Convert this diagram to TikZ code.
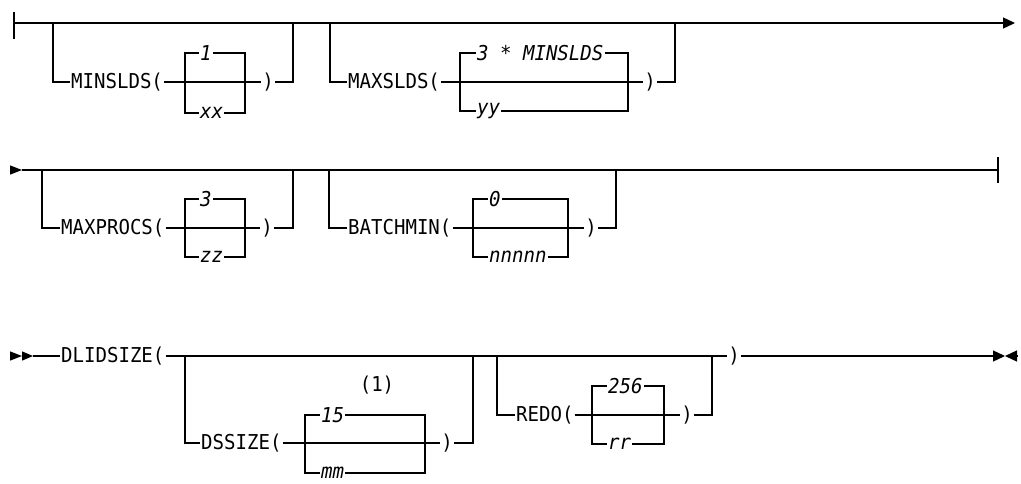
\documentclass[tikz,border=0pt]{standalone}
\usepackage{fontspec}
\usetikzlibrary{arrows.meta}
\newfontfamily\railfont[FakeStretch=0.93]{DejaVu Sans Mono}
\tikzset{
  kw/.style={font=\railfont\fontsize{20.5}{24}\selectfont, inner sep=0.5pt},
  var/.style={font=\railfont\itshape\fontsize{20.5}{24}\selectfont, inner sep=0.5pt, anchor=west},
  tip/.style={-{Triangle[length=12pt,width=11pt]}},
}
\begin{document}
\begin{tikzpicture}[x=1pt,y=-1pt,line width=1.3pt]
\useasboundingbox (0,0) rectangle (1021,483);

\coordinate (s1) at (14,23);
\coordinate (e1) at (1015,23);
\coordinate (j1a) at (53,23);
\coordinate (j1b) at (293,23);
\coordinate (j2a) at (330,23);
\coordinate (j2b) at (675,23);
\node[kw,anchor=west] (MINS) at (70,82) {MINSLDS(};
\node[kw] (R1) at (268,82) {)};
\coordinate (b1l) at (185,82);
\coordinate (b1r) at (245,82);
\node[var] (ONE) at (199,53) {1};
\node[var] (XX) at (199,113) {xx};
\node[kw,anchor=west] (MAXS) at (347,82) {MAXSLDS(};
\node[kw] (R2) at (650,82) {)};
\coordinate (b2l) at (460,82);
\coordinate (b2r) at (628,82);
\node[var] (TRI) at (476,53) {3 * MINSLDS};
\node[var] (YY) at (476,111) {yy};

\draw ([yshift=11pt]s1) -- ([yshift=-16pt]s1);
\draw[tip] (s1) -- (e1);
\draw (j1a) |- (MINS);
\draw (MINS) -- (R1);
\draw (R1) -| (j1b);
\draw (b1l) |- (ONE);
\draw (ONE) -| (b1r);
\draw (b1l) |- (XX);
\draw (XX) -| (b1r);
\draw (j2a) |- (MAXS);
\draw (MAXS) -- (R2);
\draw (R2) -| (j2b);
\draw (b2l) |- (TRI);
\draw (TRI) -| (b2r);
\draw (b2l) |- (YY);
\draw (YY) -| (b2r);

\coordinate (s2) at (10,170);
\coordinate (t2) at (22,170);
\coordinate (e2) at (998,170);
\coordinate (j3a) at (42,170);
\coordinate (j3b) at (293,170);
\coordinate (j4a) at (329,170);
\coordinate (j4b) at (616,170);
\node[kw,anchor=west] (MAXP) at (60,228) {MAXPROCS(};
\node[kw] (R3) at (267,228) {)};
\coordinate (b3l) at (185,228);
\coordinate (b3r) at (245,228);
\node[var] (THREE) at (199,199) {3};
\node[var] (ZZ) at (199,257) {zz};
\node[kw,anchor=west] (BATCH) at (347,228) {BATCHMIN(};
\node[kw] (R4) at (591,228) {)};
\coordinate (b4l) at (473,228);
\coordinate (b4r) at (568,228);
\node[var] (ZERO) at (488,199) {0};
\node[var] (NN) at (488,257) {nnnnn};

\draw[-{Triangle[length=12pt,width=9pt]}] (s2) -- (t2);
\draw (t2) -- (e2);
\draw ([yshift=13pt]e2) -- ([yshift=-13pt]e2);
\draw (j3a) |- (MAXP);
\draw (MAXP) -- (R3);
\draw (R3) -| (j3b);
\draw (b3l) |- (THREE);
\draw (THREE) -| (b3r);
\draw (b3l) |- (ZZ);
\draw (ZZ) -| (b3r);
\draw (j4a) |- (BATCH);
\draw (BATCH) -- (R4);
\draw (R4) -| (j4b);
\draw (b4l) |- (ZERO);
\draw (ZERO) -| (b4r);
\draw (b4l) |- (NN);
\draw (NN) -| (b4r);

\coordinate (s3) at (10,356);
\coordinate (t3a) at (22,356);
\coordinate (t3b) at (33,356);
\coordinate (e3) at (1005,356);
\coordinate (e3b) at (1017,356);
\coordinate (j5a) at (185,356);
\coordinate (j5b) at (473,356);
\coordinate (j6a) at (497,356);
\coordinate (j6b) at (712,356);
\node[kw,anchor=west] (DLID) at (60,356) {DLIDSIZE(};
\node[kw] (R7) at (734,356) {)};
\node[kw,anchor=west] (DSS) at (200,443) {DSSIZE(};
\node[kw] (R5) at (447,443) {)};
\coordinate (b5l) at (305,443);
\coordinate (b5r) at (425,443);
\node[var] (FIFT) at (320,415) {15};
\node[var] (MM) at (320,473) {mm};
\node[kw] (NOTE) at (377,385) {(1)};
\node[kw,anchor=west] (REDO) at (515,415) {REDO(};
\node[kw] (R6) at (687,415) {)};
\coordinate (b6l) at (592,415);
\coordinate (b6r) at (664,415);
\node[var] (TWO) at (607,386) {256};
\node[var] (RR) at (607,444) {rr};

\draw[-{Triangle[length=12pt,width=9pt]}] (s3) -- (t3a);
\draw[-{Triangle[length=11pt,width=9pt]}] (t3a) -- (t3b);
\draw (t3b) -- (DLID);
\draw (DLID) -- (R7);
\draw[tip] (R7) -- (e3);
\draw[tip] (e3b) -- (e3);
\draw (j5a) |- (DSS);
\draw (DSS) -- (R5);
\draw (R5) -| (j5b);
\draw (b5l) |- (FIFT);
\draw (FIFT) -| (b5r);
\draw (b5l) |- (MM);
\draw (MM) -| (b5r);
\draw (j6a) |- (REDO);
\draw (REDO) -- (R6);
\draw (R6) -| (j6b);
\draw (b6l) |- (TWO);
\draw (TWO) -| (b6r);
\draw (b6l) |- (RR);
\draw (RR) -| (b6r);
\end{tikzpicture}
\end{document}
